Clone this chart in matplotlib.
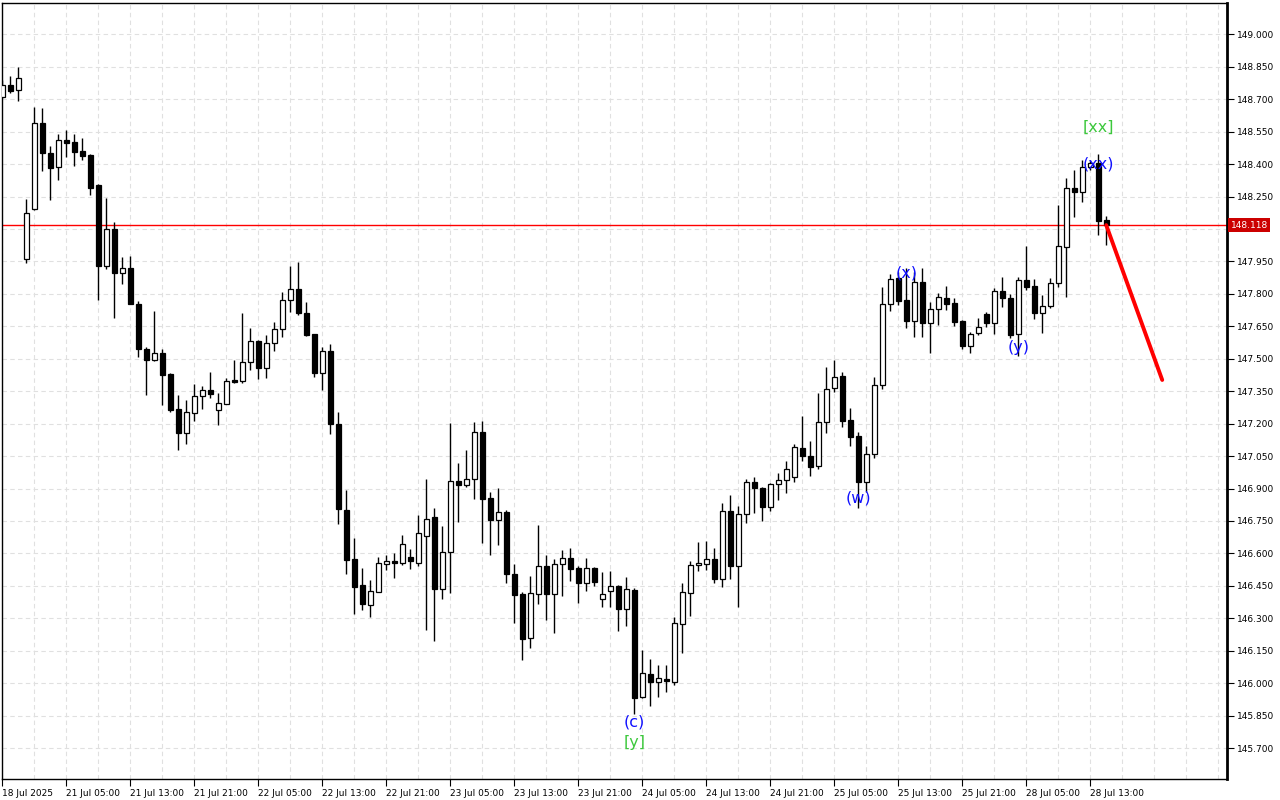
import matplotlib.pyplot as plt
import matplotlib.transforms as mtransforms
import numpy as np

# hourly candles, USDJPY-style chart (MetaTrader look)
opens = [
    148.712, 148.766, 148.743, 147.960, 148.191, 148.589, 148.450, 148.385, 148.511, 148.502,
    148.461, 148.442, 148.303, 147.930, 148.099, 147.895, 147.918, 147.752, 147.544, 147.493,
    147.525, 147.428, 147.266, 147.158, 147.251, 147.327, 147.354, 147.265, 147.292, 147.402,
    147.399, 147.484, 147.582, 147.459, 147.572, 147.636, 147.770, 147.821, 147.712, 147.614,
    147.436, 147.536, 147.199, 146.801, 146.573, 146.454, 146.363, 146.423, 146.553, 146.564,
    146.557, 146.582, 146.557, 146.682, 146.769, 146.437, 146.605, 146.934, 146.918, 146.943,
    147.160, 146.856, 146.753, 146.790, 146.505, 146.413, 146.208, 146.414, 146.542, 146.414,
    146.550, 146.578, 146.531, 146.465, 146.531, 146.391, 146.428, 146.448, 146.345, 146.431,
    145.935, 146.043, 146.007, 146.020, 146.007, 146.273, 146.415, 146.545, 146.551, 146.573,
    146.483, 146.795, 146.543, 146.781, 146.929, 146.901, 146.813, 146.920, 146.938, 146.952,
    147.086, 147.052, 147.006, 147.206, 147.364, 147.420, 147.217, 147.143, 146.929, 147.058,
    147.377, 147.753, 147.872, 147.772, 147.676, 147.854, 147.667, 147.729, 147.780, 147.756,
    147.675, 147.560, 147.618, 147.707, 147.664, 147.813, 147.780, 147.613, 147.864, 147.836,
    147.713, 147.744, 147.849, 148.015, 148.288, 148.272, 148.385, 148.406, 148.141]

closes = [
    148.766, 148.739, 148.797, 148.173, 148.589, 148.450, 148.383, 148.510, 148.499, 148.457,
    148.439, 148.291, 147.930, 148.099, 147.895, 147.918, 147.755, 147.544, 147.493, 147.525,
    147.424, 147.263, 147.158, 147.253, 147.328, 147.354, 147.339, 147.294, 147.396, 147.393,
    147.484, 147.582, 147.459, 147.572, 147.636, 147.770, 147.821, 147.710, 147.610, 147.436,
    147.535, 147.197, 146.804, 146.570, 146.446, 146.368, 146.425, 146.555, 146.564, 146.557,
    146.642, 146.567, 146.693, 146.759, 146.437, 146.605, 146.935, 146.918, 146.943, 147.160,
    146.853, 146.753, 146.790, 146.504, 146.409, 146.206, 146.416, 146.542, 146.414, 146.551,
    146.578, 146.530, 146.465, 146.531, 146.469, 146.411, 146.448, 146.345, 146.434, 145.933,
    146.046, 146.007, 146.023, 146.012, 146.277, 146.420, 146.546, 146.556, 146.573, 146.481,
    146.795, 146.543, 146.781, 146.929, 146.901, 146.813, 146.920, 146.938, 146.989, 147.091,
    147.052, 147.001, 147.206, 147.359, 147.414, 147.214, 147.140, 146.932, 147.058, 147.377,
    147.753, 147.867, 147.768, 147.676, 147.854, 147.667, 147.729, 147.784, 147.753, 147.671,
    147.560, 147.613, 147.648, 147.667, 147.813, 147.780, 147.610, 147.864, 147.833, 147.713,
    147.744, 147.849, 148.021, 148.288, 148.272, 148.385, 148.406, 148.138, 148.118]

highs = [
    148.789, 148.807, 148.850, 148.237, 148.665, 148.658, 148.484, 148.539, 148.558, 148.539,
    148.521, 148.445, 148.308, 148.245, 148.131, 147.969, 147.975, 147.767, 147.556, 147.721,
    147.545, 147.434, 147.333, 147.309, 147.383, 147.374, 147.439, 147.340, 147.411, 147.494,
    147.713, 147.642, 147.587, 147.610, 147.670, 147.809, 147.929, 147.947, 147.761, 147.614,
    147.553, 147.567, 147.253, 146.893, 146.670, 146.531, 146.476, 146.584, 146.593, 146.604,
    146.685, 146.621, 146.778, 146.944, 146.810, 146.727, 147.205, 147.020, 147.078, 147.208,
    147.212, 146.884, 146.903, 146.801, 146.551, 146.422, 146.496, 146.732, 146.593, 146.573,
    146.616, 146.625, 146.543, 146.578, 146.539, 146.514, 146.519, 146.454, 146.490, 146.439,
    146.154, 146.111, 146.084, 146.084, 146.308, 146.465, 146.564, 146.654, 146.658, 146.624,
    146.833, 146.870, 146.819, 146.944, 146.953, 146.907, 146.924, 146.972, 147.027, 147.106,
    147.235, 147.120, 147.343, 147.463, 147.494, 147.439, 147.271, 147.160, 147.097, 147.417,
    147.830, 147.891, 147.903, 147.921, 147.900, 147.920, 147.761, 147.803, 147.836, 147.780,
    147.679, 147.622, 147.687, 147.718, 147.826, 147.879, 147.799, 147.879, 148.021, 147.867,
    147.795, 147.872, 148.211, 148.334, 148.373, 148.419, 148.419, 148.447, 148.160]

lows = [
    148.706, 148.730, 148.693, 147.944, 148.188, 148.370, 148.234, 148.327, 148.434, 148.391,
    148.419, 148.257, 147.772, 147.915, 147.690, 147.846, 147.753, 147.510, 147.333, 147.490,
    147.286, 147.255, 147.078, 147.106, 147.214, 147.269, 147.320, 147.195, 147.291, 147.389,
    147.389, 147.448, 147.408, 147.413, 147.537, 147.602, 147.718, 147.702, 147.607, 147.417,
    147.356, 147.152, 146.736, 146.506, 146.322, 146.337, 146.306, 146.422, 146.524, 146.487,
    146.547, 146.530, 146.543, 146.246, 146.197, 146.389, 146.419, 146.745, 146.906, 146.852,
    146.648, 146.593, 146.639, 146.463, 146.280, 146.107, 146.164, 146.368, 146.291, 146.234,
    146.405, 146.473, 146.372, 146.425, 146.450, 146.354, 146.354, 146.243, 146.266, 145.856,
    145.932, 145.896, 145.935, 145.958, 145.992, 146.141, 146.311, 146.520, 146.524, 146.465,
    146.446, 146.481, 146.354, 146.739, 146.786, 146.751, 146.798, 146.849, 146.881, 146.932,
    147.029, 146.959, 146.989, 147.158, 147.348, 147.186, 147.098, 146.812, 146.886, 147.040,
    147.359, 147.722, 147.749, 147.641, 147.602, 147.602, 147.525, 147.656, 147.726, 147.652,
    147.544, 147.528, 147.610, 147.648, 147.614, 147.741, 147.595, 147.513, 147.818, 147.684,
    147.620, 147.733, 147.833, 147.787, 148.154, 148.226, 148.373, 148.072, 148.026]

time_labels = ['18 Jul 2025', '21 Jul 05:00', '21 Jul 13:00', '21 Jul 21:00', '22 Jul 05:00',
               '22 Jul 13:00', '22 Jul 21:00', '23 Jul 05:00', '23 Jul 13:00', '23 Jul 21:00',
               '24 Jul 05:00', '24 Jul 13:00', '24 Jul 21:00', '25 Jul 05:00', '25 Jul 13:00',
               '25 Jul 21:00', '28 Jul 05:00', '28 Jul 13:00']

current_price = 148.118
# forecast arrow (bar index, price)
arrow_x = [138, 145]
arrow_y = [148.118, 147.402]

# wave labels: (text, bar index, price, colour)
wave_labels = [
    ('(c)', 79, 145.821, 'blue'),
    ('[y]', 79, 145.724, 'green'),
    ('(w)', 107, 146.856, 'blue'),
    ('(x)', 113, 147.898, 'blue'),
    ('(y)', 127, 147.553, 'blue'),
    ('(xx)', 137, 148.400, 'blue'),
    ('[xx]', 137, 148.572, 'green'),
]
label_colors = {'blue': '#1010ff', 'green': '#3cc83c'}

o = np.array(opens)
c = np.array(closes)
h = np.array(highs)
l = np.array(lows)
n = len(o)
idx = np.arange(n)
up = c >= o

fig = plt.figure(figsize=(12.8, 8), dpi=100)
ax = fig.add_axes([0.0016, 0.02625, 0.957, 0.97])

# wicks and bodies
ax.vlines(idx, l, h, color='black', lw=1, zorder=3)
ax.bar(idx, np.maximum(np.abs(c - o), 0.003), bottom=np.minimum(o, c), width=0.6,
       color=np.where(up, 'white', 'black'), edgecolor='black', linewidth=0.9, zorder=4)

# current price line and forecast
ax.axhline(current_price, color='#ff0000', lw=1, zorder=2)
ax.plot(arrow_x, arrow_y, color='#ff0000', lw=2.8, solid_capstyle='round', zorder=5)

for txt, xi, yv, col in wave_labels:
    ax.text(xi, yv, txt, color=label_colors[col], fontsize=11.5, ha='center', va='center', zorder=6)

ax.set_xlim(-0.05, 153.1)
ax.set_ylim(145.557, 149.145)

ax.set_xticks(np.arange(0, 8 * len(time_labels), 8))
ax.set_xticklabels(time_labels, ha='left', fontsize=6.5)
ax.set_xticks(np.arange(0, 154, 4), minor=True)
ax.tick_params(axis='x', which='major', length=5, width=0.8, pad=2)
ax.tick_params(axis='x', which='minor', length=0)

yt = np.round(np.arange(145.70, 149.01, 0.15), 3)
ax.set_yticks(yt)
# the 148.100 label sits under the price tag
ax.set_yticklabels(['' if abs(v - current_price) < 0.05 else '%.3f' % v for v in yt], fontsize=6.5)
ax.yaxis.tick_right()
ax.tick_params(axis='y', length=5, width=0.8, pad=2)

ax.grid(which='both', axis='x', ls=(0, (4, 3)), color='#e0e0e0', lw=0.8)
ax.grid(which='major', axis='y', ls=(0, (4, 3)), color='#e0e0e0', lw=0.8)
ax.set_axisbelow(True)

for side in ['left', 'top', 'bottom']:
    ax.spines[side].set_linewidth(1)
ax.spines['right'].set_linewidth(2)

# price tag on the axis
trans = mtransforms.blended_transform_factory(ax.transAxes, ax.transData)
ax.text(1.003, current_price, '%.3f' % current_price, transform=trans, color='white',
        fontsize=6.5, ha='left', va='center', clip_on=False, zorder=10,
        bbox=dict(boxstyle='square,pad=0.25', fc='#cc0000', ec='none'))

plt.savefig('out.png', dpi=100, facecolor='white')
